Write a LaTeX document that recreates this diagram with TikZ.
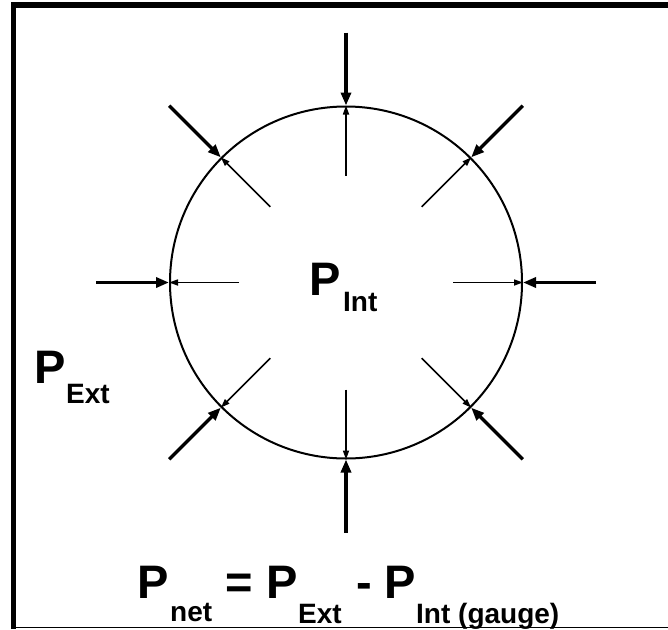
\documentclass[tikz,border=0pt]{standalone}
\usepackage{fontspec}
\setmainfont{Liberation Sans}
\usetikzlibrary{arrows.meta,calc}
\begin{document}
\begin{tikzpicture}[x=1pt,y=-1pt,
  outer/.style={line width=3.3pt,-{Triangle[length=13pt,width=10pt]}},
  inner/.style={line width=1.6pt,-{Triangle[length=9pt,width=6pt]}},
  big/.style={font=\fontsize{47}{47}\selectfont\bfseries,inner sep=0pt,anchor=base west},
  sub/.style={font=\fontsize{28}{28}\selectfont\bfseries,inner sep=0pt,anchor=base west},
]
\useasboundingbox (0,0) rectangle (668,629);
\fill[white] (0,0) rectangle (668,629);
\draw[line width=5.5pt] (13.5,629) -- (13.5,5) -- (668,5);
\draw[line width=1.5pt] (11,627.5) -- (668,627.5);
\node[circle,draw,line width=2pt,minimum size=352pt,inner sep=0pt] (c) at (346,282.5) {};
\foreach \a in {0,45,...,315} {
  \coordinate (o\a) at ($(c.center)+(\a:250pt)$);
  \coordinate (i\a) at ($(c.center)+(\a:107pt)$);
  \draw[outer] (o\a) -- (c.\a);
  \draw[inner] (i\a) -- (c.\a);
}
% centre label
\node[big] (pint) at (309.5,295) {P};
\node[sub] (sint) at (343,311) {Int};
% left label
\node[big] (pext) at (34.5,383) {P};
\node[sub] (sext) at (66,403) {Ext};
% formula
\node[big] (fp1) at (137.5,598) {P};
\node[sub] (fs1) at (170,621) {net};
\node[big] (feq) at (225,598) {=};
\node[big] (fp2) at (266.5,598) {P};
\node[sub] (fs2) at (298,623) {Ext};
\node[big] (fmi) at (356,598) {-};
\node[big] (fp3) at (384.5,598) {P};
\node[sub] (fs3) at (416,623) {Int (gauge)};
\end{tikzpicture}
\end{document}
